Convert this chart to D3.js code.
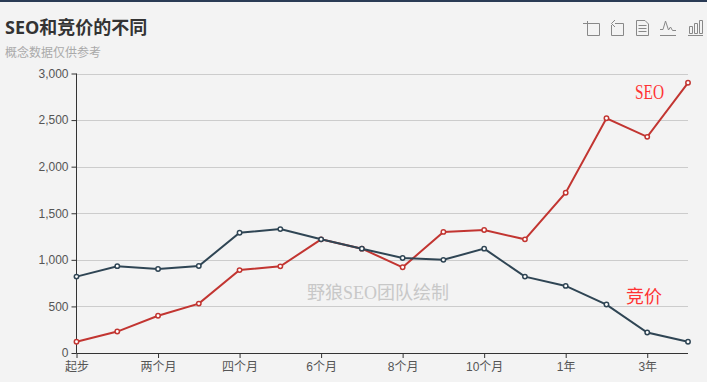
<!DOCTYPE html>
<html><head><meta charset="utf-8">
<script src="https://cdn.jsdelivr.net/npm/d3@7/dist/d3.min.js"></script>
<style>html,body{margin:0;padding:0;background:#f3f3f3;overflow:hidden}svg{display:block}
text{font-family:"Open Sans","Noto Sans CJK SC",sans-serif}</style></head><body>
<svg id="c" width="707" height="382"></svg>
<script>
const categories=["起步","一个月","两个月","三个月","四个月","5个月","6个月","7个月","8个月","9个月","10个月","11个月","1年","2年","3年","4年"];
const tickLabels=["起步","两个月","四个月","6个月","8个月","10个月","1年","3年"];
const seoValues=[120,230,400,530,890,930,1220,1120,920,1300,1320,1220,1720,2520,2320,2900];
const bidValues=[820,932,901,934,1290,1330,1220,1120,1020,1000,1120,820,720,520,220,120];
const yTicks=[0,500,1000,1500,2000,2500,3000];
const titleText="SEO和竞价的不同", subText="概念数据仅供参考", markText="野狼SEO团队绘制";

const svg=d3.select("#c");
const x=d3.scalePoint().domain(categories).range([76.5,688]);
const y=d3.scaleLinear().domain([0,3000]).range([353,73.5]);
const ax="#333", fs=12, axisFont='"Liberation Sans","Noto Sans CJK SC",sans-serif';

svg.append("rect").attr("width",707).attr("height",2).attr("fill","#2a3b55");
svg.append("text").text(titleText).attr("x",5).attr("y",34).attr("font-size",18).attr("font-weight",700).attr("fill","#333");
svg.append("text").text(subText).attr("x",5).attr("y",57).attr("font-size",12).attr("fill","#aaa");

svg.append("g").selectAll("line").data(yTicks.filter(d=>d>0)).join("line")
 .attr("x1",77).attr("x2",688).attr("y1",d=>Math.round(y(d))+.5).attr("y2",d=>Math.round(y(d))+.5)
 .attr("stroke","#ccc");

const gy=svg.append("g").attr("transform","translate(76.5,0)")
 .call(d3.axisLeft(y).tickValues(yTicks).tickSize(5).tickPadding(3).tickFormat(d3.format(",")));
gy.selectAll("path,line").attr("stroke",ax).attr("stroke-width",1);
gy.select("path").attr("d",`M0,${y(3000)}V${y(0)}`);
gy.selectAll("text").attr("fill","#555").attr("font-size",fs).style("font-family",axisFont);

const gx=svg.append("g").attr("transform","translate(0,353)")
 .call(d3.axisBottom(x).tickValues(categories.filter(c=>tickLabels.includes(c))).tickSize(5).tickPadding(4));
gx.selectAll("path,line").attr("stroke",ax);
gx.select("path").attr("d","M76.5,0.5H688");
gx.selectAll("text").attr("fill","#555").attr("font-size",fs).style("font-family",axisFont);

svg.append("text").text(markText).attr("x",378).attr("y",299).attr("text-anchor","middle")
 .attr("font-size",18).attr("fill","#c8c8c8").style("font-family",'"Liberation Serif","Noto Sans CJK SC",serif');

const line=d3.line().x((d,i)=>x(categories[i])).y(d=>y(d));
function series(vals,col){
 svg.append("path").attr("d",line(vals)).attr("fill","none").attr("stroke",col).attr("stroke-width",2);
 svg.append("g").selectAll("circle").data(vals).join("circle")
  .attr("cx",(d,i)=>x(categories[i])).attr("cy",d=>y(d)).attr("r",2.2)
  .attr("fill","#fff").attr("stroke",col).attr("stroke-width",1.5);
}
series(seoValues,"#c23531");
series(bidValues,"#2f4554");

const lab=(t,px,py,w,s)=>svg.append("text").text(t).attr("x",px).attr("y",py).attr("font-size",s).attr("fill","#ff3333")
 .attr("textLength",w).attr("lengthAdjust","spacingAndGlyphs")
 .style("font-family",'"Liberation Serif","Noto Sans CJK SC",serif');
lab("SEO",635,98.5,29,20); lab("竞价",626,303,36,18);

// toolbox icons
const icons=[
 "M583,23.5H599.5V35.5H587.5V21",
 "M615,23.5H623.5V35.5H611.5V25M615,20L611.5,23.5L615,27",
 "M636.5,20.5H645L648.5,24V35.5H636.5ZM638.5,25.5H646.5M638.5,28.5H646.5M638.5,31.5H646.5",
 "M660,35.5H676M660,29.5H663L665.5,21L668.5,30L670.5,27L672.5,30.5H676"
];
const tb=svg.append("g").attr("fill","none").attr("stroke","#888").attr("stroke-width",1);
icons.forEach(d=>tb.append("path").attr("d",d));
tb.append("path").attr("d","M688,35.5H703M689.5,26.5h3v7h-3zM694.5,23.5h3v10h-3zM699.5,20.5h3v13h-3z");
</script></body></html>
